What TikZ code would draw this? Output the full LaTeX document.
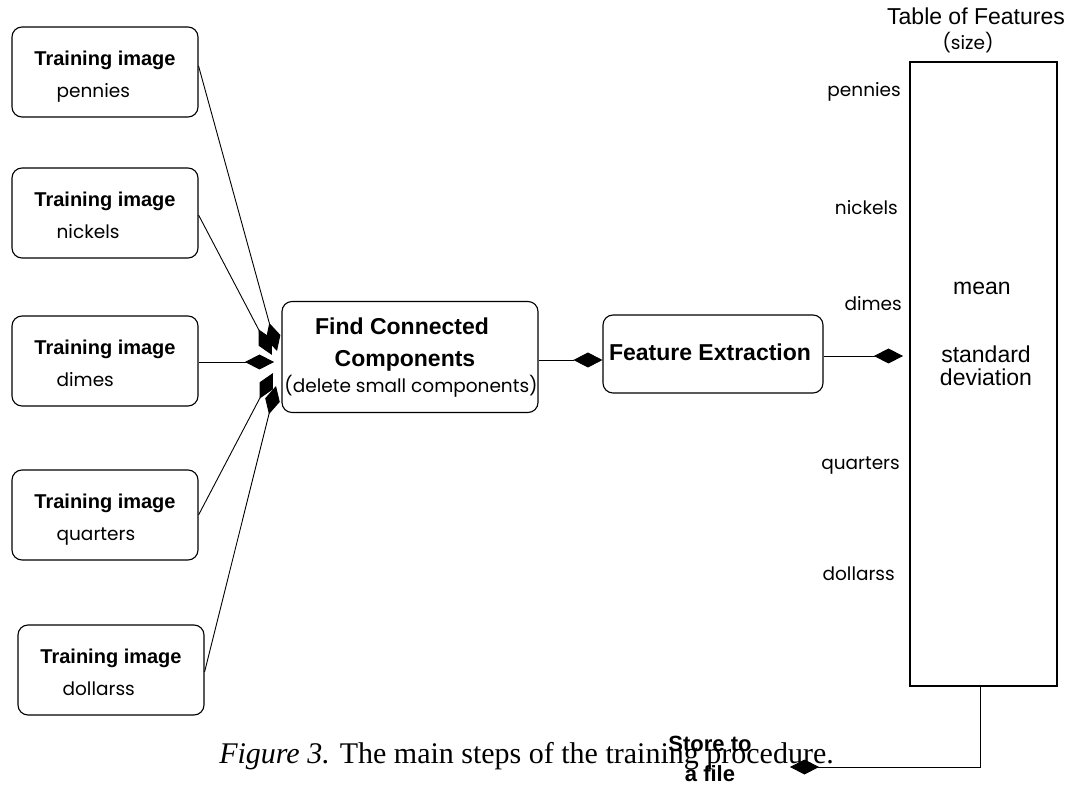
\documentclass[tikz,border=0pt]{standalone}
\usepackage{fontspec}
\setmainfont{Liberation Sans}
\newfontfamily\gothic{Poppins}
\newfontfamily\capserif{Liberation Serif}
\usetikzlibrary{arrows.meta,calc}
\begin{document}
\begin{tikzpicture}[x=1pt,y=-1pt,
  tbox/.style={draw, line width=1.1pt, rounded corners=10pt, minimum width=186pt, minimum height=90pt, inner sep=0pt},
  bold20/.style={font=\fontsize{20}{24}\selectfont\bfseries, inner sep=0pt},
  bold23/.style={font=\fontsize{23}{27}\selectfont\bfseries, inner sep=0pt},
  reg23/.style={font=\fontsize{23}{23}\selectfont, inner sep=0pt},
  thin/.style={font=\fontsize{18.5}{22}\gothic, inner sep=0pt},
  conn/.style={line width=0.9pt, -{Kite[length=29pt,width=15pt,inset=14.5pt]}},
]
\useasboundingbox[fill=white] (0,0) rectangle (1069,786);

% training image boxes
\node[tbox] (p) at (105,72) {};
\node[tbox] (n) at (105,213) {};
\node[tbox] (d) at (105,361) {};
\node[tbox] (q) at (105,515) {};
\node[tbox] (dl) at (111,670) {};
\foreach \b/\s in {p/pennies,n/nickels,d/dimes,q/quarters,dl/dollarss}{
  \node[bold20, anchor=base] (\b t) at ($(\b.north)+(0,39)$) {Training image};
  \node[thin, anchor=base west] (\b s) at ($(\b.north west)+(45,71)$) {\s};
}

% processing boxes
\node[tbox, minimum width=256pt, minimum height=111pt] (fcc) at (410,357) {};
\node[bold23, anchor=base] (fcc1) at (402,335) {Find Connected};
\node[bold23, anchor=base] (fcc2) at (405,367) {Components};
\node[thin, anchor=base] (fcc3) at (411,393) {(delete small components)};

\node[tbox, minimum width=220pt, minimum height=78pt] (fe) at (713,354) {};
\node[bold23, anchor=base] (fet) at (710,361) {Feature Extraction};

% table
\node[draw, line width=1.1pt, minimum width=147pt, minimum height=624pt, inner sep=0pt] (tbl) at (983.5,374) {};
\node[reg23, anchor=base] (tt1) at (976,25) {Table of Features};
\node[thin, anchor=base] (tt2) at (968,50) {(size)};
\node[reg23, anchor=base] (mean) at (982,295) {mean};
\node[reg23, anchor=base] (sd1) at (986,363) {standard};
\node[reg23, anchor=base] (sd2) at (986,386) {deviation};
\node[thin, anchor=base east] (lp) at (901,97) {pennies};
\node[thin, anchor=base east] (ln) at (898,215) {nickels};
\node[thin, anchor=base east] (ld) at (902,311) {dimes};
\node[thin, anchor=base east] (lq) at (900,469) {quarters};
\node[thin, anchor=base east] (ll) at (895,580) {dollarss};

% arrow end points
\coordinate (tp) at (277,351);
\coordinate (tn) at (272,355);
\coordinate (td) at (274,362);
\coordinate (tq) at (273,373);
\coordinate (tdl) at (276,386);
\coordinate (tt) at (903,356);
\coordinate (se) at (790,767);

\draw[conn] ($(p.east)+(0,-6)$) -- (tp);
\draw[conn] ($(n.east)+(0,2)$) -- (tn);
\draw[conn] ($(d.east)+(0,1)$) -- (td);
\draw[conn] (q.east) -- (tq);
\draw[conn] ($(dl.east)+(0,2)$) -- (tdl);
\draw[conn] ($(fcc.east)+(0,3)$) -- ($(fe.west)+(0,6)$);
\draw[conn] ($(fe.east)+(0,2)$) -- (tt);
\draw[conn] ([xshift=-3.5pt]tbl.south) |- (se);

% store label and caption
\node[font=\fontsize{22}{30}\selectfont\bfseries, align=center, inner sep=0pt] (store) at (710,759) {Store to\\a file};
\node[font=\fontsize{30}{34}\capserif, anchor=base east, inner sep=0pt] (cap) at (834,763) {\textit{Figure 3.} The main steps of the training procedure.};
\end{tikzpicture}
\end{document}
